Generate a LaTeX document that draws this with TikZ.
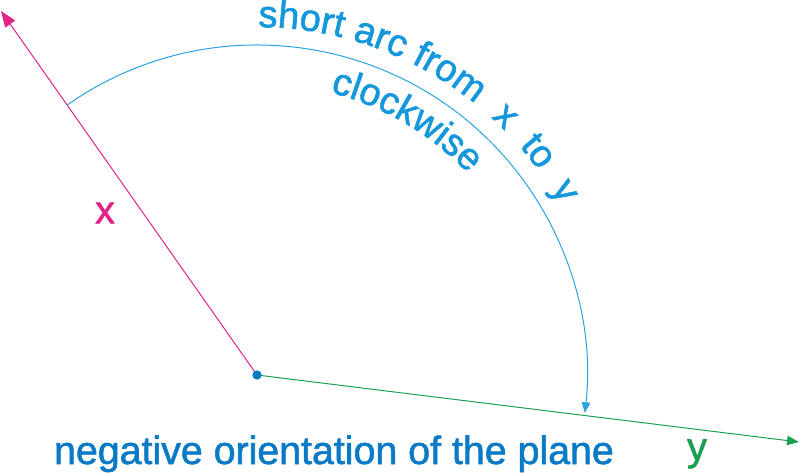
\documentclass[tikz,border=0pt]{standalone}
\usepackage{fontspec}
\setmainfont{Liberation Sans}[FakeBold=1.5]
\usetikzlibrary{arrows.meta,decorations.text}
\definecolor{xmag}{HTML}{E0248A}
\definecolor{arcblue}{HTML}{2AA3E0}
\definecolor{txtblue}{HTML}{1497DB}
\definecolor{botblue}{HTML}{0A7AC6}
\definecolor{ygreen}{HTML}{1AA050}
\definecolor{dotblue}{HTML}{0A7DC2}
\tikzset{
  vecline/.style={line width=0.75pt},
  tipx/.style={-{Triangle[length=12pt,width=9pt]}},
  tipy/.style={-{Triangle[length=9pt,width=7pt]}},
  tiparc/.style={-{Triangle[length=8pt,width=6.5pt]}},
  biglabel/.style={font=\fontsize{29.5}{32}\selectfont, inner sep=0pt},
}
\begin{document}
\begin{tikzpicture}[x=0.75pt,y=0.75pt]
\useasboundingbox (0,0) rectangle (800,472);
\coordinate (O) at (257,97);
\coordinate (X) at (1,461);
\coordinate (Y) at (799,30);
% vectors
\draw[vecline, xmag, tipx] (O) -- (X);
\draw[vecline, ygreen, tipy] (O) -- (Y);
% arc
\draw[vecline, arcblue, tiparc] ([shift={(125.1:247.5pt)}]O) arc[start angle=125.1, end angle=-6.6, radius=247.5pt];
% origin dot
\fill[dotblue] (O) circle[radius=3.5pt];
% curved texts
\path[decorate, decoration={text along path, text align=left,
  text={|\fontsize{28.5}{30}\selectfont\color{txtblue}|short arc from{\ \ }x{\ \ }to{\ \ }y}}]
  ([shift={(89.8:261pt)}]O) arc[start angle=89.8, end angle=10, radius=261pt];
\path[decorate, decoration={text along path, text align=left,
  text={|\fontsize{28.5}{30}\selectfont\color{txtblue}|clockwise}}]
  ([shift={(75.5:219pt)}]O) arc[start angle=75.5, end angle=30, radius=219pt];
% labels
\node[biglabel, text=xmag] (xl) at (105,259) {x};
\node[biglabel, text=ygreen] (yl) at (697,18) {y};
\node[biglabel, text=botblue, anchor=base] (neg) at (334,8) {negative orientation of the plane};
\end{tikzpicture}
\end{document}
